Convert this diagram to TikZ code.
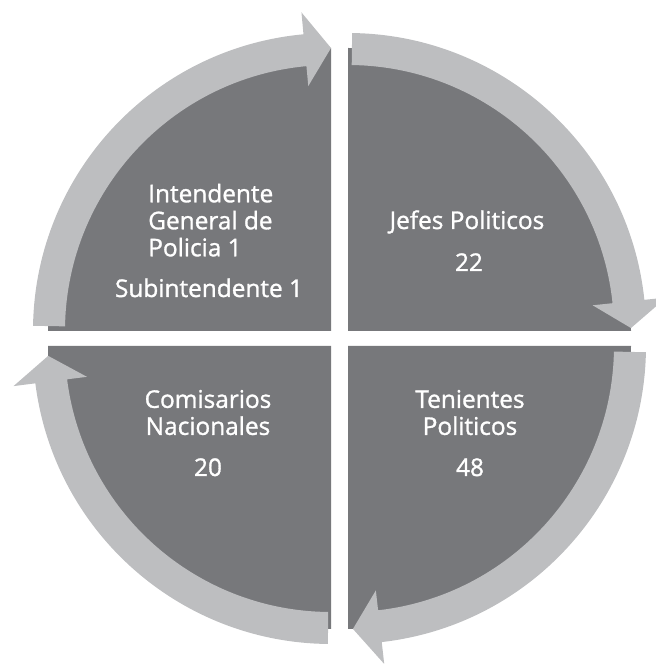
\documentclass[tikz,border=0pt]{standalone}
\usepackage{fontspec}
\setmainfont{Open Sans}
\usepackage{xcolor}
\usepackage{tikz}
\definecolor{segdark}{RGB}{119,120,123}
\definecolor{arrowgray}{RGB}{189,190,192}

% quarter segment: centre, start angle, end angle
\newcommand{\quartersegment}[3]{%
  \fill[segment] (#1) -- ++(#2:283) arc[start angle=#2, end angle=#3, radius=283] -- cycle;}
% curved arrow: centre, tail angle, head base angle, tip angle
\newcommand{\cyclearrow}[4]{%
  \fill[cyclearr, shift={(#1)}] (#2:298) arc[start angle=#2, end angle=#3, radius=298]
    -- (#3:320) -- (#4:283) -- (#3:246) -- (#3:266)
    arc[start angle=#3, end angle=#2, radius=266] -- cycle;}

\begin{document}
\begin{tikzpicture}[
    x=0.75pt, y=0.75pt,
    segment/.style={fill=segdark},
    cyclearr/.style={fill=arrowgray},
    seglabel/.style={text=white, inner sep=0pt, align=center,
      font=\fontsize{18.3}{20.25}\selectfont\addfontfeature{FakeBold=1.2}}
]
    \useasboundingbox (0,0) rectangle (656,665);

    \coordinate (tlc) at (331,334);
    \coordinate (trc) at (348,334);
    \coordinate (brc) at (348,319);
    \coordinate (blc) at (331,319);

    \quartersegment{tlc}{180}{90}
    \quartersegment{trc}{90}{0}
    \quartersegment{brc}{0}{-90}
    \quartersegment{blc}{270}{180}

    \cyclearrow{tlc}{179}{95.3}{90}
    \cyclearrow{trc}{89.2}{6}{0.6}
    \cyclearrow{brc}{-1.2}{-83.5}{-89}
    \cyclearrow{blc}{269.4}{187.2}{182}

    \node[seglabel, align=left, anchor=north west] (tlname) at (148,481.5) {Intendente\\General de\\Policia 1};
    \node[seglabel, anchor=base] (tlsub) at (209,368) {Subintendente 1};
    \node[seglabel, anchor=base] (trname) at (467,436) {Jefes Politicos};
    \node[seglabel, anchor=base] (trnum) at (469,394) {22};
    \node[seglabel, anchor=north] (brname) at (470,275.3) {Tenientes\\Politicos};
    \node[seglabel, anchor=base] (brnum) at (470,189) {48};
    \node[seglabel, anchor=north] (blname) at (208,275.3) {Comisarios\\Nacionales};
    \node[seglabel, anchor=base] (blnum) at (208,189) {20};
\end{tikzpicture}
\end{document}
